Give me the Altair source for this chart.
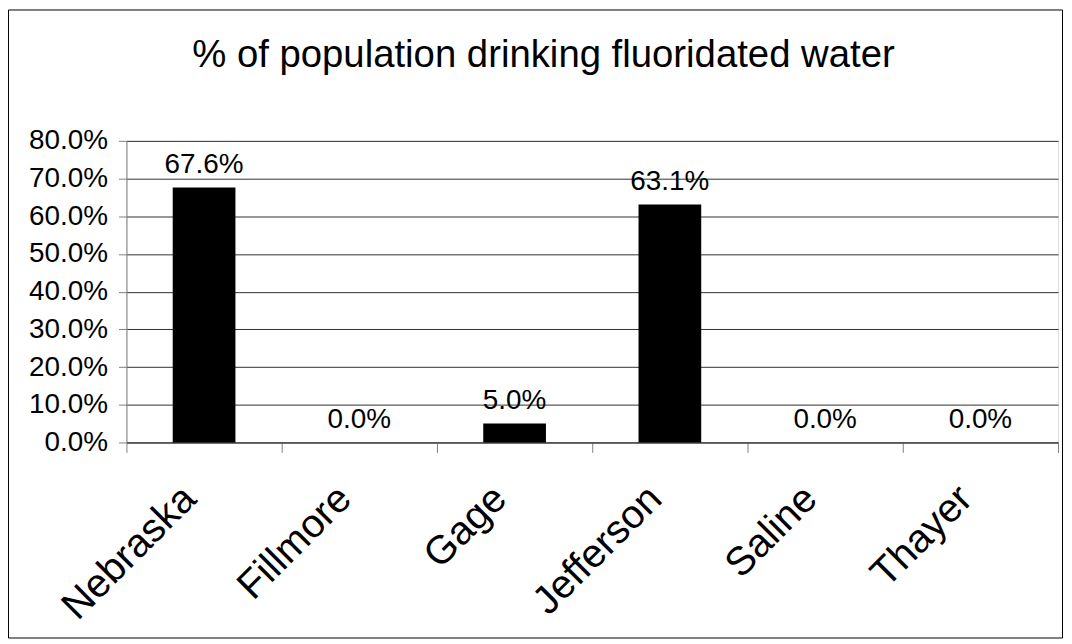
import altair as alt
import pandas as pd

counties = ["Nebraska", "Fillmore", "Gage", "Jefferson", "Saline", "Thayer"]
pct = [0.676, 0.0, 0.05, 0.631, 0.0, 0.0]
y_ticks = [0.0, 0.1, 0.2, 0.3, 0.4, 0.5, 0.6, 0.7, 0.8]
title_text = "% of population drinking fluoridated water"

FONT = "Liberation Sans"
W, H = 936, 303

df = pd.DataFrame({"county": counties, "pct": pct})

base = alt.Chart(df).encode(
    x=alt.X(
        "county:N",
        sort=counties,
        scale=alt.Scale(paddingInner=0, paddingOuter=0),
        axis=alt.Axis(
            title=None,
            labelAngle=315,
            labelAlign="right",
            labelBaseline="middle",
            labelFontSize=40,
            labelFont=FONT,
            labelColor="black",
            labelPadding=40,
            labelOffset=-15,
            tickBand="extent",
            tickSize=10,
            tickColor="#808080",
            domainColor="#303030",
            grid=False,
        ),
    ),
    y=alt.Y(
        "pct:Q",
        scale=alt.Scale(domain=[0, 0.8], nice=False),
        axis=alt.Axis(
            title=None,
            values=y_ticks,
            format=".1%",
            labelFontSize=28,
            labelFont=FONT,
            labelColor="black",
            labelPadding=11,
            tickSize=8,
            tickColor="#808080",
            domainColor="#808080",
            grid=True,
            gridColor="#303030",
        ),
    ),
)

bars = base.mark_bar(color="black", size=63)
labels = base.mark_text(
    dy=-15, baseline="alphabetic", fontSize=28, font=FONT, color="black"
).encode(text=alt.Text("pct:Q", format=".1%"))

frame = alt.Chart(alt.Data(values=[{"f": 1}])).mark_rect(
    fillOpacity=0, stroke="black", strokeWidth=1
).encode(
    x=alt.value(-118.5), x2=alt.value(W + 4.5),
    y=alt.value(-131.5), y2=alt.value(H + 196.5),
)

chart = alt.layer(frame, bars, labels).properties(
    width=W,
    height=H,
    autosize=alt.AutoSizeParams(type="none"),
    padding={"left": 119, "top": 132, "right": 6, "bottom": 198},
    title=alt.TitleParams(
        text=title_text,
        fontSize=38.5,
        font=FONT,
        fontWeight="normal",
        color="black",
        anchor="middle",
        dx=-49,
        offset=-96,
        baseline="alphabetic",
    ),
).configure_view(stroke="#a0a0a0").configure(background="white")

chart.save("out.html", embed_options={"renderer": "svg", "actions": False})
